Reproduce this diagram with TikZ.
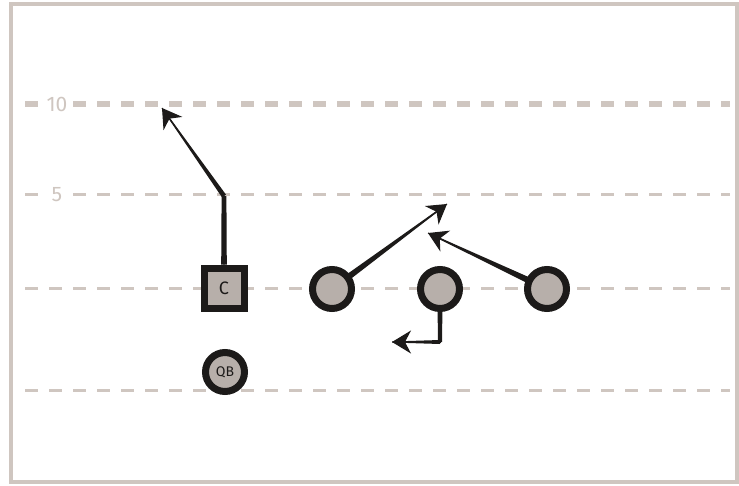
\documentclass[tikz,border=0pt]{standalone}
\usepackage{fontspec}
\setmainfont{Fira Sans}
\usetikzlibrary{arrows.meta,calc}
\definecolor{fieldgray}{HTML}{CFC6C0}
\definecolor{playerfill}{HTML}{B7AFAA}
\definecolor{ink}{HTML}{1C1A19}
% tapered stroke: from, to, start half width, end half width
\newcommand{\taperline}[4]{%
  \fill[ink] ($(#1)!#3!90:(#2)$) -- ($(#2)!#4!-90:(#1)$) -- ($(#2)!#4!90:(#1)$) -- ($(#1)!#3!-90:(#2)$) -- cycle;}

\begin{document}
\begin{tikzpicture}[x=1pt,y=-1pt,
    yardline/.style={fieldgray,line width=3pt,dash pattern=on 13pt off 11pt},
    tenline/.style={fieldgray,line width=6pt,dash pattern=on 13pt off 11pt},
    yardnum/.style={fieldgray,fill=white,font=\fontsize{21}{21}\selectfont,inner sep=3pt},
    lineman/.style={draw=ink,fill=playerfill,line width=7pt,circle,minimum size=39pt,inner sep=0pt,
        text=ink,font=\fontsize{14}{14}\selectfont},
    snapbox/.style={draw=ink,fill=playerfill,line width=7pt,rectangle,minimum size=40pt,inner sep=0pt,
        text=ink,font=\fontsize{18}{18}\selectfont},
    route/.style={ink,line width=1.2pt,-{Stealth[length=19pt,width=23pt,inset=6pt]}}]
        \useasboundingbox (0,0) rectangle (739,485);

        % draw the field
        \draw[fieldgray,line width=4pt] (11,3.5) rectangle (737,482);
        \draw[tenline] (25,104) -- (730,104);
        \node[yardnum] (ten) at (57,104) {10};
        \draw[yardline] (25,194) -- (730,194);
        \node[yardnum] (five) at (57,195) {5};
        \draw[yardline] (25,288) -- (730,288);
        \draw[yardline] (25,390) -- (730,390);

        % draw the players
        \node[snapbox] (c) at (224,288) {C};
        \node[lineman] (qb) at (225,372) {QB};
        \node[lineman] (l1) at (332,289) {};
        \node[lineman] (l2) at (440,289) {};
        \node[lineman] (l3) at (547,289) {};

        % draw the routes
        \coordinate (cturn) at (224,196);
        \coordinate (cend) at (162,108);
        \coordinate (l1end) at (447,204);
        \coordinate (l2turn) at (440,342);
        \coordinate (l2end) at (392,342);
        \coordinate (l3end) at (428,233);
        \draw[route] (c.north) -- (cturn) -- (cend);
        \draw[route] (l1) -- (l1end);
        \draw[route] (l2.south) -- (l2turn) -- (l2end);
        \draw[route] (l3) -- (l3end);
        \taperline{c.north}{cturn}{2.8pt}{2.4pt}
        \taperline{cturn}{cend}{2.4pt}{0.5pt}
        \taperline{$(l1)!21pt!(l1end)$}{l1end}{3pt}{0.5pt}
        \taperline{l2.south}{l2turn}{2.4pt}{2pt}
        \taperline{l2turn}{l2end}{2pt}{0.5pt}
        \taperline{$(l3)!21pt!(l3end)$}{l3end}{3pt}{0.5pt}
\end{tikzpicture}
\end{document}
